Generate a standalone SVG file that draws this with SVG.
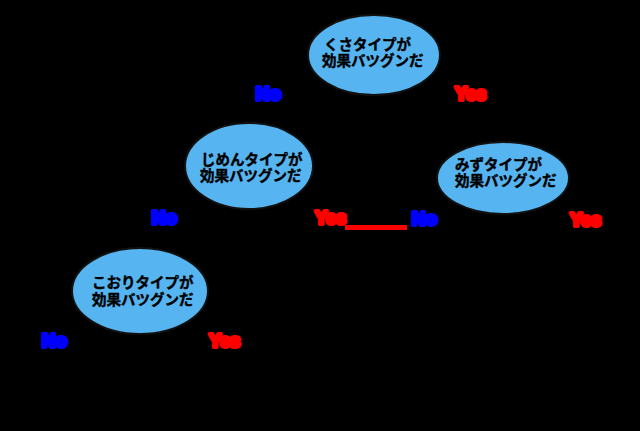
<svg xmlns="http://www.w3.org/2000/svg" width="640" height="431" viewBox="0 0 640 431">
<style>
.node ellipse{fill:#56B4F0;stroke:#111;stroke-width:2}
.node text{font-family:"Noto Sans CJK JP","Noto Sans",sans-serif;font-weight:bold;font-size:14.5px;fill:#000;stroke:#000;stroke-width:0.4}
.no{font-family:"Liberation Sans",Arial,sans-serif;font-weight:bold;font-size:19px;fill:#0000FF;stroke:#0000FF;stroke-width:4;stroke-linejoin:round}
.yes{font-family:"Liberation Sans",Arial,sans-serif;font-weight:bold;font-size:18px;fill:#FF0000;stroke:#FF0000;stroke-width:4;stroke-linejoin:round}
</style>
<rect width="640" height="431" fill="#000"/>
<g id="connectors">
<line x1="345" y1="227.5" x2="407" y2="227.5" stroke="#FF0000" stroke-width="5"/>
</g>
<g id="labels">
<text class="no" x="256" y="100">No</text>
<text class="yes" x="455" y="100">Yes</text>
<text class="no" x="152" y="224">No</text>
<text class="yes" x="315" y="224">Yes</text>
<text class="no" x="412" y="225">No</text>
<text class="yes" x="570" y="226">Yes</text>
<text class="no" x="42" y="347">No</text>
<text class="yes" x="209" y="347">Yes</text>
</g>
<g id="node-kusa" class="node">
<ellipse cx="374" cy="55" rx="66" ry="40"/>
<text x="324" y="50">くさタイプが<tspan x="322" y="66">効果バツグンだ</tspan></text>
</g>
<g id="node-jimen" class="node">
<ellipse cx="249" cy="166" rx="64" ry="43"/>
<text x="201" y="165">じめんタイプが<tspan x="200" y="181">効果バツグンだ</tspan></text>
</g>
<g id="node-mizu" class="node">
<ellipse cx="503" cy="178" rx="66" ry="36"/>
<text x="455" y="170">みずタイプが<tspan x="455" y="186">効果バツグンだ</tspan></text>
</g>
<g id="node-koori" class="node">
<ellipse cx="140" cy="291" rx="68" ry="43"/>
<text x="92" y="288">こおりタイプが<tspan x="92" y="305">効果バツグンだ</tspan></text>
</g>
</svg>
